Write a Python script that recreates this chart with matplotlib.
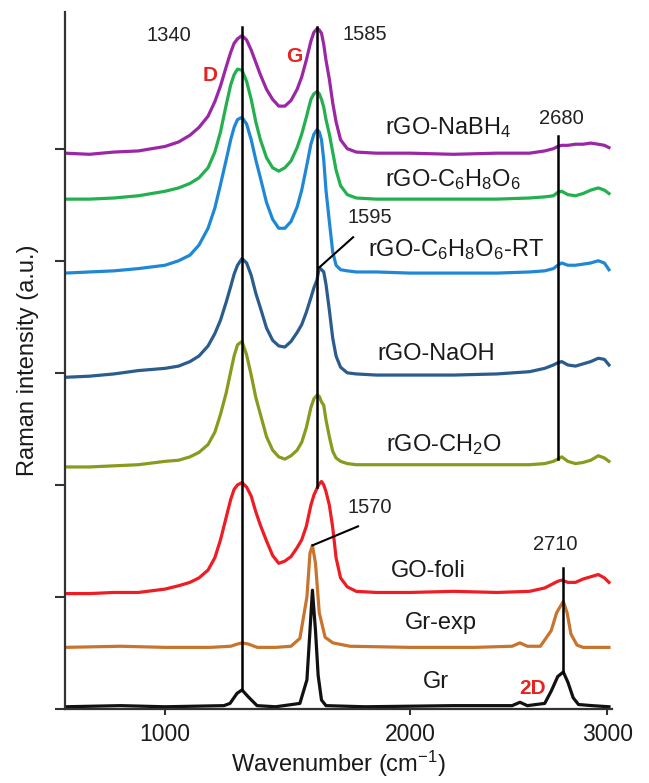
import numpy as np
import matplotlib.pyplot as plt
from matplotlib.ticker import NullLocator

plt.rcParams['font.family'] = ['Liberation Sans', 'DejaVu Sans']
plt.rcParams['mathtext.fontset'] = 'custom'
plt.rcParams['mathtext.rm'] = 'Liberation Sans'
plt.rcParams['mathtext.it'] = 'Liberation Sans:italic'
plt.rcParams['mathtext.bf'] = 'Liberation Sans:bold'
plt.rcParams['mathtext.default'] = 'regular'

# wavenumber axis is not evenly spaced: anchor wavenumbers and their relative positions
axis_wn = [0, 550, 1000, 1340, 1585, 2000, 2695, 3030, 5000]
axis_pos = [-122, 0, 100, 177, 252, 345, 496, 547, 847]

# Raman spectra of the reduced GO samples (stacked, a.u.), common wavenumber grid
wn_rgo = [550, 660, 770, 880, 1000, 1060, 1110, 1150, 1190, 1220, 1245, 1270, 1290, 1305,
          1320, 1340, 1355, 1370, 1385, 1400, 1420, 1440, 1460, 1480, 1500, 1520, 1535, 1550,
          1565, 1575, 1585, 1595, 1605, 1615, 1625, 1640, 1655, 1670, 1690, 1720, 1760, 1850,
          2000, 2200, 2400, 2550, 2620, 2660, 2680, 2700, 2740, 2790, 2840, 2890, 2940, 2980,
          3010]

i_nabh4 = [4.96, 4.95, 4.97, 4.98, 5.02, 5.06, 5.12, 5.19, 5.29, 5.42,
           5.56, 5.73, 5.86, 5.94, 5.98, 6.01, 5.97, 5.88, 5.77, 5.66,
           5.53, 5.44, 5.38, 5.38, 5.43, 5.53, 5.64, 5.79, 5.96, 6.04,
           6.07, 6.06, 6.03, 5.93, 5.79, 5.62, 5.41, 5.24, 5.08, 5.00,
           4.97, 4.96, 4.96, 4.95, 4.96, 4.96, 4.98, 5.00, 5.02, 5.03,
           5.03, 5.04, 5.04, 5.05, 5.04, 5.03, 5.01]

i_asc = [4.55, 4.55, 4.56, 4.58, 4.62, 4.65, 4.69, 4.74, 4.83, 4.97,
         5.15, 5.39, 5.57, 5.66, 5.71, 5.70, 5.60, 5.44, 5.24, 5.08,
         4.92, 4.83, 4.80, 4.83, 4.89, 5.01, 5.13, 5.28, 5.44, 5.49,
         5.51, 5.49, 5.44, 5.37, 5.26, 5.13, 4.97, 4.81, 4.67, 4.59,
         4.56, 4.55, 4.55, 4.55, 4.55, 4.56, 4.57, 4.58, 4.61, 4.62,
         4.59, 4.58, 4.60, 4.63, 4.65, 4.63, 4.60]

i_asc_rt = [3.89, 3.90, 3.91, 3.93, 3.96, 4.00, 4.05, 4.14, 4.29, 4.47,
            4.68, 4.90, 5.08, 5.19, 5.26, 5.28, 5.22, 5.08, 4.90, 4.74,
            4.52, 4.37, 4.29, 4.29, 4.35, 4.48, 4.63, 4.83, 5.04, 5.13,
            5.17, 5.15, 5.08, 4.90, 4.63, 4.35, 4.08, 3.96, 3.92, 3.91,
            3.90, 3.90, 3.89, 3.89, 3.89, 3.90, 3.91, 3.93, 3.96, 3.98,
            3.96, 3.96, 3.97, 3.98, 4.00, 3.98, 3.92]

i_naoh = [2.96, 2.97, 2.99, 3.02, 3.04, 3.06, 3.10, 3.15, 3.24, 3.35,
          3.47, 3.63, 3.77, 3.88, 3.96, 4.02, 3.98, 3.87, 3.71, 3.58,
          3.40, 3.29, 3.24, 3.23, 3.28, 3.36, 3.43, 3.54, 3.67, 3.76,
          3.83, 3.94, 3.92, 3.90, 3.79, 3.56, 3.31, 3.15, 3.05, 3.00,
          2.99, 2.98, 2.98, 2.98, 2.99, 3.01, 3.04, 3.07, 3.09, 3.10,
          3.07, 3.06, 3.08, 3.10, 3.13, 3.12, 3.07]

i_ch2o = [2.16, 2.16, 2.17, 2.18, 2.21, 2.22, 2.25, 2.29, 2.36, 2.47,
          2.63, 2.82, 3.01, 3.15, 3.25, 3.28, 3.16, 2.98, 2.78, 2.63,
          2.43, 2.31, 2.25, 2.23, 2.26, 2.31, 2.38, 2.51, 2.69, 2.77,
          2.80, 2.79, 2.74, 2.71, 2.58, 2.43, 2.30, 2.24, 2.21, 2.19,
          2.18, 2.18, 2.18, 2.18, 2.18, 2.18, 2.19, 2.21, 2.23, 2.25,
          2.21, 2.19, 2.20, 2.22, 2.26, 2.24, 2.21]

i_go = [1.03, 1.03, 1.04, 1.04, 1.07, 1.10, 1.13, 1.17, 1.24, 1.35,
        1.51, 1.71, 1.87, 1.96, 2.00, 2.02, 1.98, 1.90, 1.76, 1.64,
        1.50, 1.37, 1.30, 1.32, 1.36, 1.44, 1.51, 1.63, 1.82, 1.91,
        1.97, 2.01, 2.03, 2.00, 1.94, 1.82, 1.62, 1.35, 1.17, 1.09,
        1.05, 1.04, 1.04, 1.05, 1.04, 1.05, 1.08, 1.12, 1.14, 1.15,
        1.13, 1.13, 1.16, 1.18, 1.20, 1.17, 1.13]

# graphite samples have narrow bands, so their own grids
wn_grexp = [550, 800, 1000, 1200, 1290, 1320, 1340, 1360, 1390, 1450, 1500, 1529, 1539, 1552,
            1562, 1570, 1580, 1595, 1621, 1656, 1732, 2000, 2300, 2470, 2506, 2540, 2600, 2650,
            2675, 2710, 2735, 2760, 2800, 2840, 3010]
i_grexp = [0.55, 0.56, 0.55, 0.55, 0.56, 0.58, 0.59, 0.58, 0.55, 0.55, 0.56, 0.63, 0.79, 1.00,
           1.39, 1.46, 1.30, 0.86, 0.64, 0.59, 0.56, 0.55, 0.55, 0.56, 0.59, 0.56, 0.56, 0.70,
           0.86, 0.96, 0.86, 0.67, 0.57, 0.55, 0.55]

wn_gr = [550, 800, 1000, 1260, 1287, 1318, 1340, 1360, 1389, 1450, 1529, 1552, 1562, 1570,
         1580, 1590, 1605, 1625, 1800, 2200, 2470, 2506, 2540, 2620, 2650, 2680, 2710, 2740,
         2775, 2810, 2900, 3010]
i_gr = [0.02, 0.03, 0.02, 0.03, 0.05, 0.14, 0.17, 0.11, 0.03, 0.02, 0.05, 0.26, 0.70, 1.06,
        0.70, 0.30, 0.08, 0.03, 0.02, 0.03, 0.03, 0.06, 0.03, 0.05, 0.16, 0.29, 0.33, 0.24,
        0.10, 0.04, 0.03, 0.02]

spectra = [
    (wn_gr, i_gr, '#111111', 'Gr', 2120, 0.19),
    (wn_grexp, i_grexp, '#c8742e', 'Gr-exp', 2143, 0.71),
    (wn_rgo, i_go, '#ee1d23', 'GO-foli', 2083, 1.18),
    (wn_rgo, i_ch2o, '#8a9a1e', 'rGO-CH$_2$O', 2157, 2.30),
    (wn_rgo, i_naoh, '#2b5c8e', 'rGO-NaOH', 2120, 3.11),
    (wn_rgo, i_asc_rt, '#1f88d6', 'rGO-C$_6$H$_8$O$_6$-RT', 2212, 4.04),
    (wn_rgo, i_asc, '#23b04e', 'rGO-C$_6$H$_8$O$_6$', 2198, 4.67),
    (wn_rgo, i_nabh4, '#9c27a6', 'rGO-NaBH$_4$', 2175, 5.13),
]

# band marker lines: position, bottom, top
peak_lines = [(1340, 0.17, 6.09), (1585, 1.98, 6.09), (2680, 2.23, 5.11), (2710, 0.33, 1.26)]
peak_numbers = [('1340', 1018, 5.96), ('1585', 1800, 5.97), ('2680', 2695, 5.22),
                ('1595', 1822, 4.34), ('1570', 1822, 1.75), ('2710', 2670, 1.42)]
leaders = [((1595, 1746), (3.94, 4.21)), ((1570, 1768), (1.46, 1.63))]
band_names = [('D', 1199, 5.60), ('G', 1510, 5.77), ('2D', 2566, 0.13)]


def fwd(x):
    return np.interp(x, axis_wn, axis_pos)


def inv(p):
    return np.interp(p, axis_pos, axis_wn)


fig = plt.figure(figsize=(6.49, 7.83), dpi=100)
ax = fig.add_axes([0.1002, 0.0945, 0.8428, 0.8902])
ax.set_xscale('function', functions=(fwd, inv))

for wn, inten, color, name, lx, ly in spectra:
    ax.plot(wn, inten, color=color, lw=2.3, solid_joinstyle='round', zorder=2)
    ax.text(lx, ly, name, fontsize=17, ha='center', va='baseline', color='#1a1a1a')

for x, y0, y1 in peak_lines:
    ax.plot([x, x], [y0, y1], color='black', lw=1.8, zorder=3)
for xs, ys in leaders:
    ax.plot(xs, ys, color='black', lw=1.5, zorder=3)
for txt, x, y in peak_numbers:
    ax.text(x, y, txt, fontsize=14.5, ha='center', va='baseline', color='#222222')
for txt, x, y in band_names:
    ax.text(x, y, txt, fontsize=15, fontweight='bold', ha='center', va='baseline',
            color='#e8231f')

ax.set_xlim(550, 3030)
ax.set_ylim(0, 6.22)
ax.set_xticks([1000, 2000, 3000])
ax.xaxis.set_minor_locator(NullLocator())
ax.set_yticks([0, 1, 2, 3, 4, 5])
ax.set_yticklabels([])
ax.tick_params(axis='x', direction='out', length=4, width=1.5, labelsize=16.5, pad=6,
               colors='#333333', labelcolor='#1a1a1a')
ax.tick_params(axis='y', direction='out', length=7, width=1.5, colors='#333333')
for side in ['top', 'right']:
    ax.spines[side].set_visible(False)
for side in ['left', 'bottom']:
    ax.spines[side].set_linewidth(1.6)
    ax.spines[side].set_color('#333333')

ax.set_xlabel('Wavenumber (cm$^{-1}$)', fontsize=17, labelpad=2, color='#1a1a1a')
ax.set_ylabel('Raman intensity (a.u.)', fontsize=17, labelpad=8, color='#1a1a1a')

fig.savefig('out.png', dpi=100)
